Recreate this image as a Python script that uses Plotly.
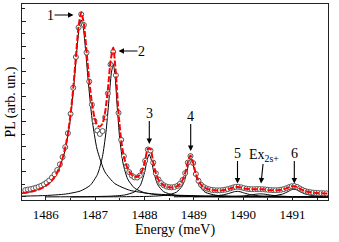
import plotly.graph_objects as go

# ---- measured PL data (circles) ----
energy = [1485.586, 1485.640, 1485.694, 1485.748, 1485.802, 1485.856, 1485.910, 1485.964, 1486.018, 1486.072,
          1486.126, 1486.180, 1486.234, 1486.288, 1486.342, 1486.396, 1486.450, 1486.504, 1486.558, 1486.612,
          1486.666, 1486.720, 1486.774, 1486.828, 1486.882, 1486.936, 1486.990, 1487.044, 1487.098, 1487.152,
          1487.206, 1487.260, 1487.314, 1487.368, 1487.422, 1487.476, 1487.530, 1487.584, 1487.638, 1487.692,
          1487.746, 1487.800, 1487.854, 1487.908, 1487.962, 1488.016, 1488.070, 1488.124, 1488.178, 1488.232,
          1488.286, 1488.340, 1488.394, 1488.448, 1488.502, 1488.556, 1488.610, 1488.664, 1488.718, 1488.772,
          1488.826, 1488.880, 1488.934, 1488.988, 1489.042, 1489.096, 1489.150, 1489.204, 1489.258, 1489.312,
          1489.366, 1489.420, 1489.474, 1489.528, 1489.582, 1489.636, 1489.690, 1489.744, 1489.798, 1489.852,
          1489.906, 1489.960, 1490.014, 1490.068, 1490.122, 1490.176, 1490.230, 1490.284, 1490.338, 1490.392,
          1490.446, 1490.500, 1490.554, 1490.608, 1490.662, 1490.716, 1490.770, 1490.824, 1490.878, 1490.932,
          1490.986, 1491.040, 1491.094, 1491.148, 1491.202, 1491.256, 1491.310, 1491.364, 1491.418, 1491.472,
          1491.526, 1491.580, 1491.634, 1491.688]

pl_data = [0.55, 0.59, 0.63, 0.68, 0.74, 0.81, 0.90, 1.01, 1.15, 1.32,
           1.54, 1.81, 2.15, 2.60, 3.18, 3.97, 5.08, 6.62, 8.70, 11.15,
           13.50, 14.55, 13.70, 11.50, 9.20, 7.35, 6.05, 5.30, 5.02, 5.25,
           6.35, 8.25, 10.55, 11.55, 9.70, 6.70, 4.55, 3.25, 2.45, 1.98,
           1.70, 1.56, 1.55, 1.70, 2.10, 2.88, 3.78, 3.70, 2.74, 1.88,
           1.39, 1.10, 0.93, 0.83, 0.78, 0.77, 0.80, 0.88, 1.04, 1.35,
           1.90, 2.74, 3.26, 2.70, 1.83, 1.29, 0.97, 0.79, 0.68, 0.61,
           0.565, 0.54, 0.53, 0.53, 0.55, 0.58, 0.63, 0.69, 0.76, 0.81,
           0.81, 0.77, 0.71, 0.66, 0.63, 0.62, 0.62, 0.63, 0.63, 0.62,
           0.60, 0.575, 0.555, 0.54, 0.54, 0.55, 0.58, 0.63, 0.70, 0.79,
           0.86, 0.87, 0.80, 0.68, 0.57, 0.48, 0.42, 0.38, 0.35, 0.33,
           0.315, 0.305, 0.295, 0.29]

# ---- total fit (red dashed) ----
fit_energy = [1485.53] + energy + [1491.72]
fit_total = [0.31,
             0.33, 0.37, 0.41, 0.46, 0.52, 0.59, 0.68, 0.79, 0.93, 1.10,
             1.32, 1.60, 1.97, 2.45, 3.08, 3.92, 5.05, 6.60, 8.67, 11.18,
             13.58, 14.70, 13.78, 11.58, 9.28, 7.49, 6.30, 5.70, 5.62, 5.85,
             6.80, 8.56, 10.80, 11.90, 9.83, 6.66, 4.50, 3.22, 2.47, 2.02,
             1.75, 1.62, 1.61, 1.76, 2.15, 2.92, 3.86, 3.81, 2.77, 1.89,
             1.38, 1.09, 0.92, 0.82, 0.77, 0.76, 0.79, 0.87, 1.03, 1.34,
             1.90, 2.76, 3.30, 2.73, 1.84, 1.29, 0.97, 0.78, 0.67, 0.60,
             0.555, 0.53, 0.52, 0.52, 0.54, 0.57, 0.62, 0.68, 0.75, 0.80,
             0.80, 0.76, 0.70, 0.65, 0.62, 0.61, 0.61, 0.62, 0.62, 0.61,
             0.59, 0.565, 0.545, 0.53, 0.53, 0.54, 0.57, 0.62, 0.69, 0.78,
             0.85, 0.86, 0.79, 0.67, 0.56, 0.47, 0.41, 0.37, 0.34, 0.32,
             0.305, 0.295, 0.285, 0.28,
             0.275]

# ---- individual fit components (black) ----
c1_x = [1485.52, 1485.70, 1485.90, 1486.10, 1486.25, 1486.40, 1486.50, 1486.58, 1486.64, 1486.68, 1486.72,
        1486.76, 1486.80, 1486.86, 1486.94, 1487.04, 1487.20, 1487.40, 1487.70, 1488.10, 1488.60, 1489.30,
        1490.20, 1491.72]
c1_y = [0.29, 0.42, 0.68, 1.19, 2.02, 3.818, 6.203, 9.304, 12.07, 13.53, 14.10,
        13.53, 12.07, 9.304, 6.203, 3.818, 1.997, 1.071, 0.537, 0.276, 0.150, 0.080,
        0.044, 0.021]

c2_x = [1485.52, 1486.00, 1486.40, 1486.70, 1486.90, 1487.05, 1487.15, 1487.22, 1487.28, 1487.33, 1487.37,
        1487.41, 1487.45, 1487.50, 1487.57, 1487.66, 1487.80, 1488.00, 1488.30, 1488.80, 1489.50, 1490.50,
        1491.72]
c2_y = [0.065, 0.117, 0.232, 0.474, 0.921, 1.806, 3.21, 5.121, 7.652, 9.85, 10.60,
        9.456, 7.143, 4.653, 2.634, 1.44, 0.708, 0.342, 0.160, 0.068, 0.031, 0.014,
        0.007]

c3_x = [1486.0, 1486.8, 1487.3, 1487.6, 1487.8, 1487.92, 1488.0, 1488.05, 1488.097, 1488.14, 1488.19,
        1488.27, 1488.39, 1488.6, 1488.9, 1489.4, 1490.2, 1491.72]
c3_y = [0.009, 0.024, 0.064, 0.159, 0.410, 0.947, 1.913, 2.875, 3.40, 2.949, 1.983,
        0.979, 0.420, 0.155, 0.063, 0.024, 0.009, 0.003]

c4_x = [1486.5, 1487.5, 1488.1, 1488.45, 1488.65, 1488.77, 1488.85, 1488.90, 1488.94, 1488.98, 1489.03,
        1489.11, 1489.23, 1489.44, 1489.75, 1490.3, 1491.0, 1491.72]
c4_y = [0.006, 0.018, 0.051, 0.146, 0.384, 0.900, 1.827, 2.694, 3.05, 2.694, 1.827,
        0.900, 0.384, 0.146, 0.055, 0.020, 0.009, 0.005]

c5_x = [1488.6, 1489.1, 1489.4, 1489.6, 1489.73, 1489.82, 1489.88, 1489.94, 1490.03, 1490.16, 1490.36,
        1490.66, 1491.1, 1491.72]
c5_y = [0.013, 0.033, 0.078, 0.172, 0.307, 0.419, 0.45, 0.419, 0.307, 0.172, 0.078,
        0.033, 0.014, 0.006]

cex_x = [1489.0, 1489.5, 1489.8, 1490.0, 1490.15, 1490.27, 1490.35, 1490.43, 1490.55, 1490.7, 1490.9,
         1491.2, 1491.72]
cex_y = [0.008, 0.020, 0.043, 0.085, 0.152, 0.227, 0.25, 0.227, 0.152, 0.085, 0.043,
         0.020, 0.008]

c6_x = [1489.5, 1490.1, 1490.45, 1490.65, 1490.8, 1490.91, 1490.98, 1491.03, 1491.08, 1491.15, 1491.26,
        1491.41, 1491.61, 1491.72]
c6_y = [0.009, 0.022, 0.055, 0.114, 0.236, 0.429, 0.576, 0.62, 0.576, 0.429, 0.236,
        0.114, 0.055, 0.040]

components = [(c1_x, c1_y), (c2_x, c2_y), (c3_x, c3_y), (c4_x, c4_y),
              (c5_x, c5_y), (cex_x, cex_y), (c6_x, c6_y)]

tick_vals = [1486, 1487, 1488, 1489, 1490, 1491]
tick_text = ["1486", "1487", "1488", "1489", "1490", "1491"]
peak_labels = ["1", "2", "3", "4", "5", "Ex<sub>2s+</sub>", "6"]

X0, X1 = 1485.52, 1491.72
Y0, Y1 = -0.24, 15.37

fig = go.Figure()
for cx, cy in components:
    fig.add_trace(go.Scatter(x=cx, y=cy, mode="lines",
                             line=dict(color="black", width=1, shape="spline", smoothing=0.6),
                             showlegend=False, hoverinfo="skip"))

fig.add_trace(go.Scatter(x=energy, y=pl_data, mode="markers",
                         marker=dict(symbol="circle", size=5, color="white",
                                     line=dict(color="#555555", width=1)),
                         showlegend=False))

fig.add_trace(go.Scatter(x=fit_energy, y=fit_total, mode="lines",
                         line=dict(color="#ff0000", width=2, dash="6px,2px", shape="spline", smoothing=0.6),
                         showlegend=False))

FONT = "Liberation Serif"

def px2x(p):
    return X0 + (p - 22) / (306 / (X1 - X0))

def py2y(p):
    return Y1 - (p - 4) / (196 / (Y1 - Y0))

# arrow tip (px) and text offset (px) for each label
arrow_geo = [(73.5, 15, -23, 0), (118.5, 51, 23, 0), (149.3, 144, 0, -31),
             (190.7, 151, 0, -35), (237.5, 183.5, 0, -30.5), (261.0, 183.5, 3, -28.5),
             (294.3, 183.5, 0, -30.5)]
ann = []
for lab, (tx, ty, dx, dy) in zip(peak_labels, arrow_geo):
    ann.append(dict(x=px2x(tx), y=py2y(ty), xref="x", yref="y", text=lab, showarrow=True,
                    ax=dx, ay=dy, arrowhead=2, arrowsize=1, arrowwidth=1.1, arrowcolor="black",
                    standoff=0, borderpad=0,
                    font=dict(family=FONT, size=14, color="black")))

fig.update_layout(
    width=339, height=242,
    margin=dict(l=22, r=11, t=4, b=42),
    paper_bgcolor="white", plot_bgcolor="white",
    font=dict(family=FONT, size=13, color="black"),
    annotations=ann,
    hovermode=False,
    xaxis=dict(range=[X0, X1], showgrid=False, zeroline=False, automargin=False,
               showline=True, linecolor="#222222", linewidth=1, mirror=True,
               ticks="inside", ticklen=4, tickcolor="#222222",
               tickvals=tick_vals, ticktext=tick_text, ticklabelstandoff=2,
               tickfont=dict(family=FONT, size=13, color="black"),
               minor=dict(dtick=0.5, ticks="inside", ticklen=2.5, tickcolor="#222222", showgrid=False),
               title=dict(text="Energy (meV)", font=dict(family=FONT, size=14, color="black"), standoff=2)),
    yaxis=dict(range=[Y0, Y1], showgrid=False, zeroline=False, automargin=False,
               showline=True, linecolor="#222222", linewidth=1, mirror=True,
               ticks="inside", ticklen=4, tickcolor="#222222", tick0=0, dtick=2,
               showticklabels=False,
               minor=dict(dtick=1, ticks="inside", ticklen=2.5, tickcolor="#222222", showgrid=False),
               title=dict(text="PL (arb. un.)", font=dict(family=FONT, size=14, color="black"), standoff=2)),
)

fig.write_html("out.html", config={"displayModeBar": False},
               post_script="document.body.style.margin='0';")
